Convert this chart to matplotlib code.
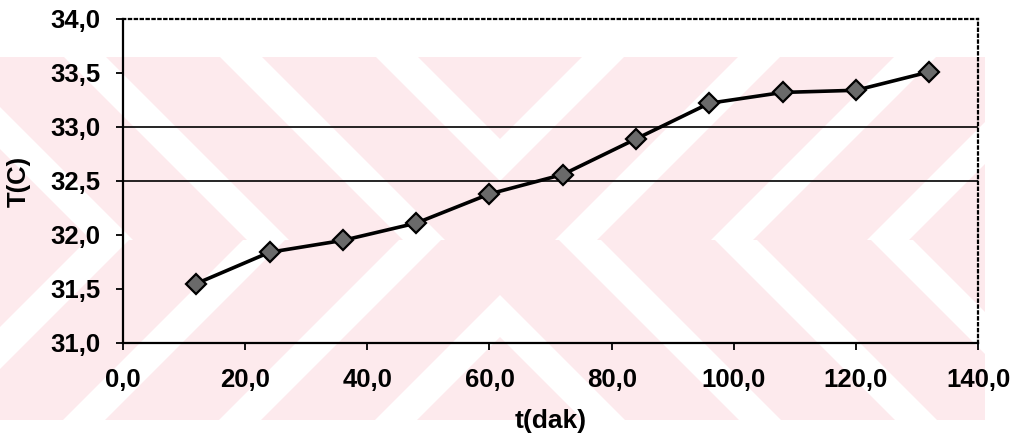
import matplotlib.pyplot as plt
from matplotlib.patches import Rectangle, Polygon

# data
t_dak = [12, 24, 36, 48, 60, 72, 84, 96, 108, 120, 132]
temp_c = [31.55, 31.84, 31.95, 32.11, 32.38, 32.56, 32.89, 33.22, 33.32, 33.34, 33.51]
x_ticks = [0, 20, 40, 60, 80, 100, 120, 140]
y_ticks = [31.0, 31.5, 32.0, 32.5, 33.0, 33.5, 34.0]
grid_levels = [32.5, 33.0]

plt.rcParams["font.family"] = ["Liberation Sans", "DejaVu Sans"]

fig = plt.figure(figsize=(10.21, 4.48), dpi=100)

# pink striped watermark behind the chart (pixel coords, y down)
bg = fig.add_axes([0, 0, 1, 1], zorder=0)
bg.set_xlim(0, 1021)
bg.set_ylim(448, 0)
bg.axis("off")
pink = "#fdeaed"
cx, cy = 500, 240
x_left, x_right, y_top, y_bot = 0, 985, 57, 420
period, band = 156, 42
quads = [
    ((x_left, y_top, cx, cy), "back"),   # upper left  "\"
    ((cx, y_top, x_right, cy), "fwd"),   # upper right "/"
    ((x_left, cy, cx, y_bot), "fwd"),    # lower left  "/"
    ((cx, cy, x_right, y_bot), "back"),  # lower right "\"
]
for (x0, y0, x1, y1), kind in quads:
    rect = Rectangle((x0, y0), x1 - x0, y1 - y0, facecolor=pink, edgecolor="none")
    bg.add_patch(rect)
    clip = Rectangle((x0, y0), x1 - x0, y1 - y0, transform=bg.transData)
    for k in range(-8, 9):
        if kind == "fwd":
            c = cx + cy + k * period + 55
            pts = [(x0 - 10, c - x0 + 10), (x1 + 10, c - x1 - 10),
                   (x1 + 10, c - x1 - 10 + band), (x0 - 10, c - x0 + 10 + band)]
        else:
            c = cy - cx + k * period + 55
            pts = [(x0 - 10, x0 - 10 + c), (x1 + 10, x1 + 10 + c),
                   (x1 + 10, x1 + 10 + c + band), (x0 - 10, x0 - 10 + c + band)]
        p = Polygon(pts, closed=True, facecolor="white", edgecolor="none")
        bg.add_patch(p)
        p.set_clip_path(clip)

# main chart
ax = fig.add_axes([0.1205, 0.2344, 0.8375, 0.7232], zorder=1)
ax.set_facecolor("none")

for lvl in grid_levels:
    ax.axhline(lvl, color="black", lw=1.2, zorder=1)

ax.plot(t_dak, temp_c, color="black", lw=2.6, marker="D", markersize=10,
        markerfacecolor="#6a6a6a", markeredgecolor="black", markeredgewidth=1.6, zorder=3)

ax.set_xlim(0, 140)
ax.set_ylim(31, 34)
ax.set_xticks(x_ticks)
ax.set_yticks(y_ticks)
ax.set_xticklabels([f"{v:.1f}".replace(".", ",") for v in x_ticks])
ax.set_yticklabels([f"{v:.1f}".replace(".", ",") for v in y_ticks])
ax.tick_params(axis="both", direction="out", length=5, width=1.3, labelsize=18.5)
ax.tick_params(axis="y", pad=11)
ax.tick_params(axis="x", pad=13)
for lbl in ax.get_xticklabels() + ax.get_yticklabels():
    lbl.set_fontweight("bold")

ax.spines["left"].set_linewidth(1.6)
ax.spines["bottom"].set_linewidth(1.6)
ax.spines["top"].set_linestyle(":")
ax.spines["right"].set_linestyle(":")
ax.spines["top"].set_linewidth(1.6)
ax.spines["right"].set_linewidth(1.6)

ax.set_xlabel("t(dak)", fontsize=19, fontweight="bold")
ax.set_ylabel("T(C)", fontsize=18.5, fontweight="bold")
ax.xaxis.set_label_coords(0.5, -0.205)
ax.yaxis.set_label_coords(-0.108, 0.5)

fig.savefig("out.png", dpi=100)
